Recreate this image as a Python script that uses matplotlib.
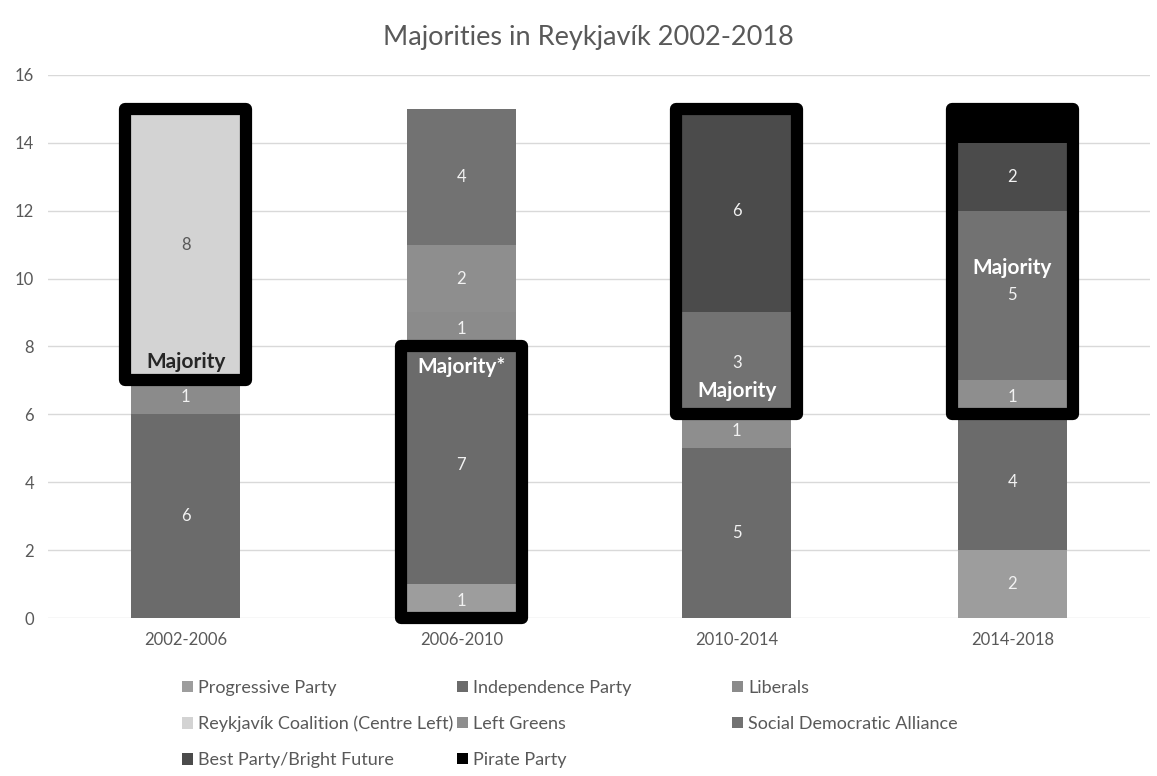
import matplotlib
matplotlib.use("Agg")
import matplotlib.pyplot as plt
from matplotlib.patches import Rectangle
import numpy as np

plt.rcParams["font.family"] = ["Lato", "DejaVu Sans"]

periods = ["2002-2006", "2006-2010", "2010-2014", "2014-2018"]

parties = [
    "Progressive Party",
    "Independence Party",
    "Liberals",
    "Reykjavík Coalition (Centre Left)",
    "Left Greens",
    "Social Democratic Alliance",
    "Best Party/Bright Future",
    "Pirate Party",
]

# seats per term, stacked bottom-up in the order of `parties`
progressive = [0, 1, 0, 2]
independence = [6, 7, 5, 4]
liberals = [1, 1, 0, 0]
reykjavik_coalition = [8, 0, 0, 0]
left_greens = [0, 2, 1, 1]
social_democrats = [0, 4, 3, 5]
best_party = [0, 0, 6, 2]
pirate = [0, 0, 0, 1]

seats = [progressive, independence, liberals, reykjavik_coalition,
         left_greens, social_democrats, best_party, pirate]

colors = ["#9d9d9d", "#6b6b6b", "#8b8b8b", "#d3d3d3",
          "#8e8e8e", "#727272", "#4b4b4b", "#000000"]

# parties forming the ruling majority in each term
majorities = [
    ["Reykjavík Coalition (Centre Left)"],
    ["Progressive Party", "Independence Party"],
    ["Social Democratic Alliance", "Best Party/Bright Future"],
    ["Left Greens", "Social Democratic Alliance", "Best Party/Bright Future", "Pirate Party"],
]
majority_text = ["Majority", "Majority*", "Majority", "Majority"]
majority_text_y = [7.55, 7.4, 6.7, 10.3]
majority_text_color = ["#262626", "white", "white", "white"]

grey = "#595959"

fig = plt.figure(figsize=(11.57, 7.76), dpi=100)
ax = fig.add_axes([0.0415, 0.2036, 0.9525, 0.7])

x = np.arange(len(periods))
bar_w = 0.395
bottom = np.zeros(len(periods))
containers = {}
bottoms = {}
for name, vals, col in zip(parties, seats, colors):
    vals = np.array(vals, dtype=float)
    bc = ax.bar(x, vals, bar_w, bottom=bottom, color=col, zorder=2)
    containers[name] = bc
    bottoms[name] = bottom.copy()
    bottom = bottom + vals
    if name == "Pirate Party":
        continue  # black segment, no visible count
    txt_col = grey if name.startswith("Reykjav") else "#f2f2f2"
    ax.bar_label(bc, labels=[str(int(v)) if v else "" for v in vals],
                 label_type="center", color=txt_col, fontsize=12, zorder=3)

# thick black frame around each majority coalition
box_w = 0.44
for i, group in enumerate(majorities):
    lo = min(bottoms[p][i] for p in group)
    hi = max(bottoms[p][i] + seats[parties.index(p)][i] for p in group)
    ax.add_patch(Rectangle((x[i] - box_w / 2, lo), box_w, hi - lo,
                           fill=False, edgecolor="black", linewidth=8.8,
                           joinstyle="round", zorder=4, clip_on=False))
    ax.text(x[i], majority_text_y[i], majority_text[i], ha="center", va="center",
            fontsize=15, fontweight="bold", color=majority_text_color[i], zorder=5)

ax.set_xlim(-0.5, 3.5)
ax.set_ylim(0, 16)
ax.set_yticks(range(0, 17, 2))
ax.set_xticks(x)
ax.set_xticklabels(periods)
ax.tick_params(axis="both", length=0, colors=grey, labelsize=12)
ax.tick_params(axis="y", pad=10)
ax.tick_params(axis="x", pad=10)
ax.grid(axis="y", color="#d9d9d9", linewidth=1)
ax.set_axisbelow(True)
for s in ax.spines.values():
    s.set_visible(False)

fig.text(588 / 1157, 1 - 37 / 776, "Majorities in Reykjavík 2002-2018",
         ha="center", va="center", fontsize=19.5, color=grey)

# legend laid out row by row in three fixed columns
legend_cols = [
    ["Progressive Party", "Reykjavík Coalition (Centre Left)", "Best Party/Bright Future"],
    ["Independence Party", "Left Greens", "Pirate Party"],
    ["Liberals", "Social Democratic Alliance"],
]
col_x = [182 / 1157, 457 / 1157, 732 / 1157]
for cx, names in zip(col_x, legend_cols):
    fig.legend([containers[n] for n in names], names, loc="upper left",
               bbox_to_anchor=(cx, 1 - 680 / 776), frameon=False,
               fontsize=13, labelcolor=grey, handlelength=0.6, handleheight=0.6,
               handletextpad=0.3, labelspacing=1.1, borderpad=0, borderaxespad=0)

fig.savefig("out.png", dpi=100)
